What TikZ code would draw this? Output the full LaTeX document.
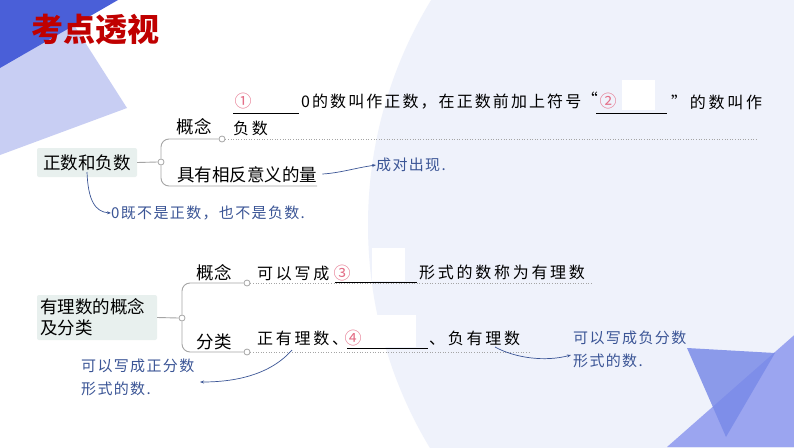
\documentclass[tikz,border=0pt]{standalone}
\usepackage{fontspec}
\usetikzlibrary{arrows.meta}
\newfontfamily\cjk{Noto Sans CJK SC}
\newfontfamily\cjksp{Noto Sans CJK SC}[LetterSpace=17]
\newfontfamily\cjkspn{Noto Sans CJK SC}[LetterSpace=13]
\newfontfamily\cjkann{Noto Sans CJK SC}[LetterSpace=9]
\definecolor{darkblue}{RGB}{74,95,216}
\definecolor{lightlav}{RGB}{200,206,243}
\definecolor{palebg}{RGB}{239,242,251}
\definecolor{midblue}{RGB}{122,139,232}
\definecolor{lightblue}{RGB}{155,165,240}
\definecolor{titlered}{RGB}{192,0,0}
\definecolor{annblue}{RGB}{59,85,150}
\definecolor{numpink}{RGB}{228,110,135}
\definecolor{boxfill}{RGB}{232,240,238}
\definecolor{branchgray}{RGB}{165,165,165}
\tikzset{
  txt/.style={inner sep=0pt, text=black, font=\cjksp\fontsize{16}{19}\selectfont},
  txtnarrow/.style={inner sep=0pt, text=black, font=\cjkspn\fontsize{16}{19}\selectfont},
  bigtxt/.style={inner sep=0pt, text=black, font=\cjk\fontsize{17.5}{20}\selectfont},
  num/.style={inner sep=0pt, text=numpink, font=\cjk\fontsize{17}{19}\selectfont},
  ann/.style={inner sep=0pt, text=annblue, font=\cjkann\fontsize{15}{23}\selectfont, align=left},
  topicbox/.style={fill=boxfill, rounded corners=2pt, inner sep=0pt, text=black, font=\cjk\fontsize{17.5}{21}\selectfont, align=left},
  junction/.style={circle, draw=branchgray, fill=white, inner sep=0pt, minimum size=6pt, line width=0.8pt},
  branch/.style={draw=branchgray, line width=0.9pt, rounded corners=8pt},
  dotline/.style={draw=branchgray, line width=0.6pt, dotted},
  blank/.style={draw=black, line width=0.8pt},
  annarrow/.style={draw=annblue, line width=0.7pt, -{Stealth[length=4pt,width=3pt]}},
  whitebox/.style={fill=white, draw=none}
}
\begin{document}
\begin{tikzpicture}[x=1pt,y=-1pt]
\useasboundingbox (0,0) rectangle (794,447);
\begin{scope}
\clip (0,0) rectangle (794,447);
\fill[white] (0,0) rectangle (794,447);
\fill[palebg] (800,225) circle (432);
% top-left triangles
\fill[lightlav] (0,0) -- (58,0) -- (127,108) -- (0,155) -- cycle;
\fill[darkblue] (0,0) -- (118,0) -- (0,68) -- cycle;
% bottom-right triangles
\fill[lightblue] (667,447) -- (800,330) -- (800,447) -- cycle;
\fill[midblue, opacity=0.85] (687,348) -- (775,353) -- (726,437) -- cycle;
\end{scope}

% title
\node[inner sep=0pt, text=titlered, font=\cjk\bfseries\fontsize{32}{36}\selectfont] (title) at (95,30) {考点透视};

% ===== part 1 =====
\node[topicbox, minimum width=100pt, minimum height=29pt] (b1) at (87,162.5) {正数和负数};
\node[junction] (j1) at (161,162) {};
\node[junction] (c11) at (222,139) {};
\coordinate (e12) at (317,186);
\coordinate (d11) at (758,139);
\draw[branch] (b1.east) -- (j1.west);
\draw[branch] (j1.north) |- (c11.west);
\draw[branch] (j1.south) |- (e12);
\draw[dotline] (c11.east) -- (d11);
\node[bigtxt] (l11) at (194,127) {概念};
\node[bigtxt, anchor=west] (l12) at (177,175) {具有相反意义的量};

\fill[whitebox] (622,80) rectangle (655,110);
\node[num] (n1) at (243,101) {①};
\coordinate (u1a) at (233,113); \coordinate (u1b) at (299,113);
\draw[blank] (u1a) -- (u1b);
\node[txtnarrow, anchor=west] (t1) at (301,102) {0的数叫作正数，在正数前加上符号};
\node[txt, anchor=east] (q1) at (598,99) {“};
\node[num] (n2) at (608,101) {②};
\coordinate (u2a) at (596,113); \coordinate (u2b) at (667,113);
\draw[blank] (u2a) -- (u2b);
\node[txt, anchor=west] (t2) at (671,102) {”的数叫作};
\node[txt, anchor=west] (t3) at (233,128) {负数};

\node[ann, anchor=west] (a1) at (376,165) {成对出现.};
\draw[annarrow] (l12.east) ++(5,-1) coordinate (a1s) (a1s) .. controls (340,173) and (355,168) .. (a1.west);
\node[ann, anchor=west] (a2) at (111,213) {0既不是正数，也不是负数.};
\coordinate (a2s) at (87,172);
\draw[annarrow] (a2s) .. controls (88,200) and (95,212) .. (a2.west);

% ===== part 2 =====
\node[topicbox, minimum width=120pt, minimum height=45pt, text width=114pt] (b2) at (97,317.5) {有理数的概念\\及分类};
\node[junction] (j2) at (182,318) {};
\node[junction] (c21) at (247,283) {};
\node[junction] (c22) at (247,352) {};
\coordinate (d21) at (592,283);
\coordinate (d22) at (530,352);
\draw[branch] (b2.east) -- (j2.west);
\draw[branch] (j2.north) |- (c21.west);
\draw[branch] (j2.south) |- (c22.west);
\draw[dotline] (c21.east) -- (d21);
\draw[dotline] (c22.east) -- (d22);
\node[bigtxt] (l21) at (214,273) {概念};
\node[bigtxt] (l22) at (214,342) {分类};

\fill[whitebox] (372,248) rectangle (405,281);
\node[txt, anchor=west] (t4) at (257,273) {可以写成};
\node[num] (n3) at (342,273) {③};
\coordinate (u3a) at (335,282); \coordinate (u3b) at (417,282);
\draw[blank] (u3a) -- (u3b);
\node[txt, anchor=west] (t5) at (419,272) {形式的数称为有理数};

\fill[whitebox] (375,315) rectangle (416,347);
\node[txt, anchor=west] (t6) at (257,338) {正有理数、};
\node[num] (n4) at (353,338) {④};
\coordinate (u4a) at (347,348); \coordinate (u4b) at (428,348);
\draw[blank] (u4a) -- (u4b);
\node[txt, anchor=west] (t7) at (429,338) {、负有理数};

\node[ann, anchor=north west] (a3) at (81,359) {可以写成正分数\\形式的数.};
\coordinate (a3s) at (292,350);
\coordinate (a3e) at (200,382);
\draw[annarrow] (a3s) .. controls (270,375) and (235,382) .. (a3e);

\node[ann, anchor=north west] (a4) at (573,331) {可以写成负分数\\形式的数.};
\coordinate (a4s) at (495,347);
\coordinate (a4e) at (571,355);
\draw[annarrow] (a4s) .. controls (515,358) and (545,362) .. (a4e);
\end{tikzpicture}
\end{document}
